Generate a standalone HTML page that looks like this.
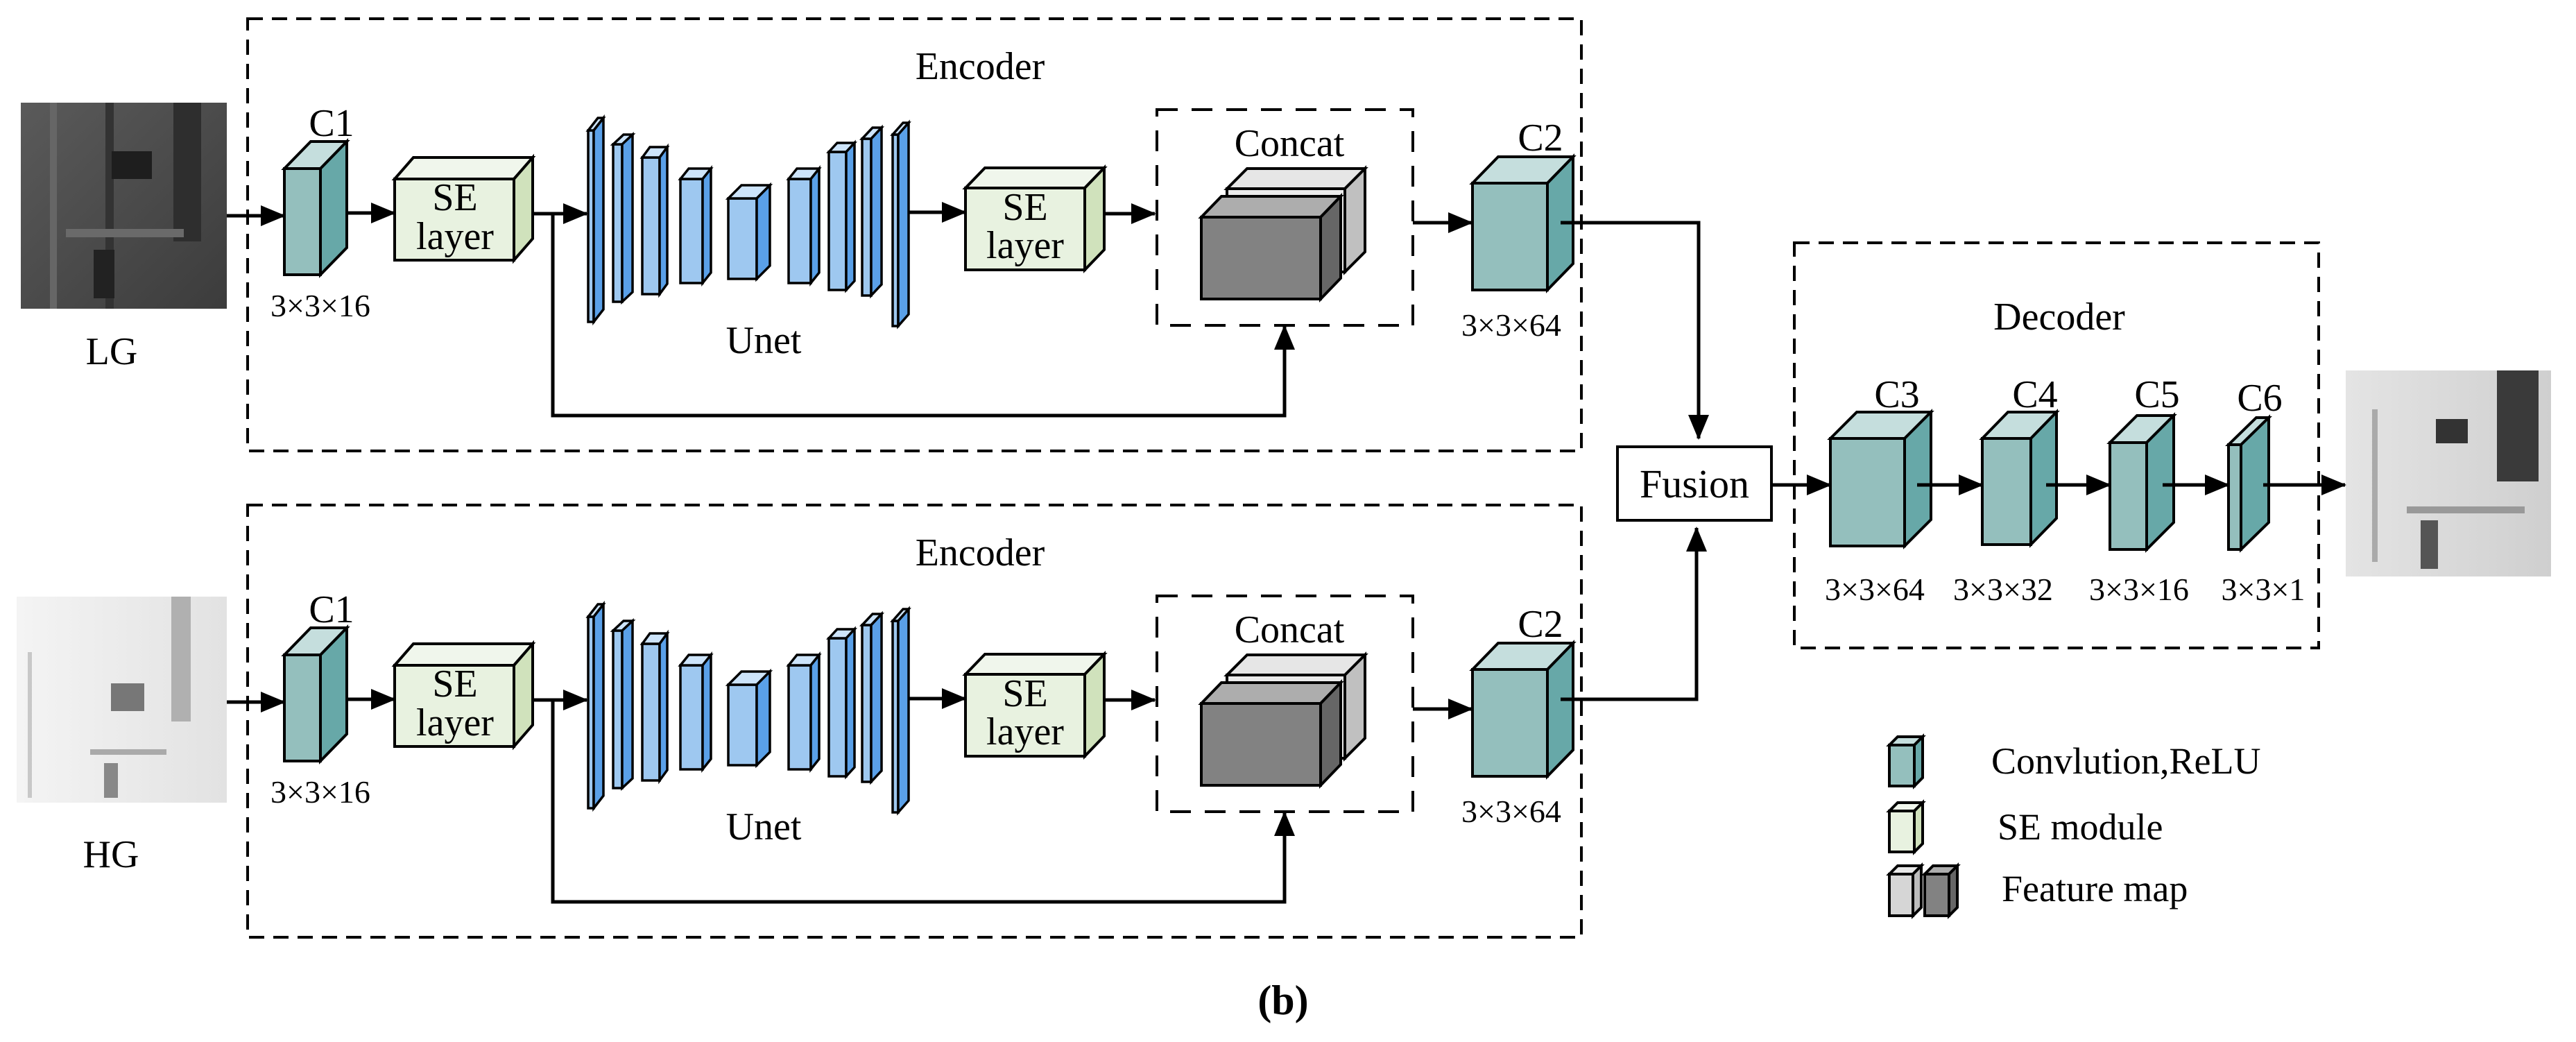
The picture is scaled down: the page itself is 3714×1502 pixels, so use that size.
<!DOCTYPE html>
<html><head><meta charset="utf-8"><style>
html,body{margin:0;padding:0;background:#fff}
svg{display:block}
text{font-family:"Liberation Serif",serif;fill:#000}
</style></head><body>
<svg width="3714" height="1502" viewBox="0 0 3714 1502" xmlns="http://www.w3.org/2000/svg">
<defs>
<marker id="ah" markerUnits="userSpaceOnUse" markerWidth="36" markerHeight="30" refX="34" refY="15" orient="auto"><path d="M0,0 L36,15 L0,30 Z" fill="#000"/></marker>
<linearGradient id="lg" x1="0" y1="0" x2="1" y2="1"><stop offset="0" stop-color="#5a5a5a"/><stop offset="1" stop-color="#3c3c3c"/></linearGradient>
<linearGradient id="hg" x1="0" y1="0" x2="1" y2="0"><stop offset="0" stop-color="#f4f4f4"/><stop offset="1" stop-color="#e2e2e2"/></linearGradient>
<linearGradient id="og" x1="0" y1="0" x2="1" y2="0"><stop offset="0" stop-color="#e4e4e4"/><stop offset="1" stop-color="#cfcfcf"/></linearGradient>
</defs>
<g stroke="#000" stroke-width="4" stroke-linejoin="miter">

<!-- LG image -->
<rect x="30" y="148" width="297" height="297" fill="url(#lg)" stroke="none"/>
<rect x="72" y="148" width="10" height="297" fill="#666" stroke="none"/>
<rect x="152" y="148" width="12" height="297" fill="#333" stroke="none"/>
<rect x="250" y="148" width="40" height="200" fill="#2e2e2e" stroke="none"/>
<rect x="161" y="218" width="58" height="40" fill="#1e1e1e" stroke="none"/>
<rect x="95" y="330" width="170" height="12" fill="#6a6a6a" stroke="none"/>
<rect x="135" y="360" width="30" height="70" fill="#222" stroke="none"/>
<!-- HG image -->
<rect x="24" y="860" width="303" height="297" fill="url(#hg)" stroke="none"/>
<rect x="247" y="860" width="28" height="180" fill="#b0b0b0" stroke="none"/>
<rect x="160" y="985" width="48" height="40" fill="#777" stroke="none"/>
<rect x="130" y="1080" width="110" height="8" fill="#aaa" stroke="none"/>
<rect x="150" y="1100" width="20" height="50" fill="#888" stroke="none"/>
<rect x="40" y="940" width="6" height="210" fill="#c8c8c8" stroke="none"/>
<!-- Output image -->
<rect x="3382" y="534" width="296" height="297" fill="url(#og)" stroke="none"/>
<rect x="3600" y="534" width="60" height="160" fill="#3a3a3a" stroke="none"/>
<rect x="3512" y="604" width="46" height="35" fill="#333" stroke="none"/>
<rect x="3420" y="590" width="8" height="220" fill="#aaa" stroke="none"/>
<rect x="3470" y="730" width="170" height="10" fill="#999" stroke="none"/>
<rect x="3490" y="750" width="25" height="70" fill="#555" stroke="none"/>

<!-- ============ TOP ENCODER ============ -->
<g id="enc">
<rect x="357" y="27" width="1923" height="623" fill="none" stroke-dasharray="22,13"/>
<rect x="1668" y="158" width="369" height="311" fill="none" stroke-dasharray="30,20"/>
<!-- C1 -->
<polygon points="410,243 410,396 462,396 462,243" fill="#94bfbd"/>
<polygon points="410,243 448,204 500,204 462,243" fill="#c5dedd"/>
<polygon points="462,243 500,204 500,357 462,396" fill="#67a8a8"/>
<!-- SE1 -->
<polygon points="569,258 741,258 741,375 569,375" fill="#e8f2e0"/>
<polygon points="569,258 596,227 768,227 741,258" fill="#f0f6ec"/>
<polygon points="741,258 768,227 768,344 741,375" fill="#d0e2bc"/>
<!-- Unet bars -->
<g stroke-width="3.5">
<polygon points="848,188 856,188 856,464 848,464" fill="#9ec8f0"/><polygon points="848,188 862,170 870,170 856,188" fill="#cde4fa"/><polygon points="856,188 870,170 870,446 856,464" fill="#5aa0e8"/>
<polygon points="884,208 897,208 897,435 884,435" fill="#9ec8f0"/><polygon points="884,208 899,194 912,194 897,208" fill="#cde4fa"/><polygon points="897,208 912,194 912,421 897,435" fill="#5aa0e8"/>
<polygon points="926,227 951,227 951,424 926,424" fill="#9ec8f0"/><polygon points="926,227 937,212 962,212 951,227" fill="#cde4fa"/><polygon points="951,227 962,212 962,409 951,424" fill="#5aa0e8"/>
<polygon points="981,258 1013,258 1013,408 981,408" fill="#9ec8f0"/><polygon points="981,258 993,243 1025,243 1013,258" fill="#cde4fa"/><polygon points="1013,258 1025,243 1025,393 1013,408" fill="#5aa0e8"/>
<polygon points="1050,286 1091,286 1091,402 1050,402" fill="#9ec8f0"/><polygon points="1050,286 1069,267 1110,267 1091,286" fill="#cde4fa"/><polygon points="1091,286 1110,267 1110,383 1091,402" fill="#5aa0e8"/>
<polygon points="1137,258 1169,258 1169,408 1137,408" fill="#9ec8f0"/><polygon points="1137,258 1149,243 1181,243 1169,258" fill="#cde4fa"/><polygon points="1169,258 1181,243 1181,393 1169,408" fill="#5aa0e8"/>
<polygon points="1195,219 1220,219 1220,418 1195,418" fill="#9ec8f0"/><polygon points="1195,219 1207,206 1232,206 1220,219" fill="#cde4fa"/><polygon points="1220,219 1232,206 1232,405 1220,418" fill="#5aa0e8"/>
<polygon points="1243,200 1256,200 1256,426 1243,426" fill="#9ec8f0"/><polygon points="1243,200 1258,184 1271,184 1256,200" fill="#cde4fa"/><polygon points="1256,200 1271,184 1271,410 1256,426" fill="#5aa0e8"/>
<polygon points="1287,194 1295,194 1295,470 1287,470" fill="#9ec8f0"/><polygon points="1287,194 1302,177 1310,177 1295,194" fill="#cde4fa"/><polygon points="1295,194 1310,177 1310,453 1295,470" fill="#5aa0e8"/>
</g>
<!-- SE2 -->
<polygon points="1392,271 1564,271 1564,389 1392,389" fill="#e8f2e0"/>
<polygon points="1392,271 1420,242 1592,242 1564,271" fill="#f0f6ec"/>
<polygon points="1564,271 1592,242 1592,360 1564,389" fill="#d0e2bc"/>
<!-- feature maps -->
<polygon points="1769,272 1939,272 1939,392 1769,392" fill="#ebebeb"/>
<polygon points="1769,272 1798,243 1968,243 1939,272" fill="#e6e6e6"/>
<polygon points="1939,272 1968,243 1968,363 1939,392" fill="#c0c0c0"/>
<polygon points="1732,313 1904,313 1904,431 1732,431" fill="#828282"/>
<polygon points="1732,313 1761,283 1933,283 1904,313" fill="#adadad"/>
<polygon points="1904,313 1933,283 1933,401 1904,431" fill="#666"/>
<!-- C2 -->
<polygon points="2123,264 2231,264 2231,418 2123,418" fill="#94bfbd"/>
<polygon points="2123,264 2160,226 2268,226 2231,264" fill="#c5dedd"/>
<polygon points="2231,264 2268,226 2268,380 2231,418" fill="#67a8a8"/>
<!-- arrows -->
<g stroke-width="5" fill="none">
<line x1="327" y1="311" x2="410" y2="311" marker-end="url(#ah)"/>
<line x1="500" y1="307" x2="569" y2="307" marker-end="url(#ah)"/>
<line x1="768" y1="308" x2="846" y2="308" marker-end="url(#ah)"/>
<polyline points="797,308 797,599 1852,599 1852,470" marker-end="url(#ah)"/>
<line x1="1310" y1="306" x2="1392" y2="306" marker-end="url(#ah)"/>
<line x1="1592" y1="308" x2="1665" y2="308" marker-end="url(#ah)"/>
<line x1="2037" y1="321" x2="2122" y2="321" marker-end="url(#ah)"/>
</g>
<g stroke="none">
<text x="1413" y="114" font-size="56" text-anchor="middle">Encoder</text>
<text x="478" y="196" font-size="56" text-anchor="middle">C1</text>
<text x="462" y="456" font-size="46" text-anchor="middle">3×3×16</text>
<text x="656" y="303" font-size="56" text-anchor="middle">SE</text>
<text x="656" y="359" font-size="56" text-anchor="middle">layer</text>
<text x="1101" y="509" font-size="56" text-anchor="middle">Unet</text>
<text x="1478" y="317" font-size="56" text-anchor="middle">SE</text>
<text x="1478" y="372" font-size="56" text-anchor="middle">layer</text>
<text x="1859" y="225" font-size="56" text-anchor="middle">Concat</text>
<text x="2221" y="217" font-size="56" text-anchor="middle">C2</text>
<text x="2179" y="484" font-size="46" text-anchor="middle">3×3×64</text>
</g>
</g>

<!-- ============ BOTTOM ENCODER (copy, shifted 701) ============ -->
<g transform="translate(0,701)">
<rect x="357" y="27" width="1923" height="623" fill="none" stroke-dasharray="22,13"/>
<rect x="1668" y="158" width="369" height="311" fill="none" stroke-dasharray="30,20"/>
<polygon points="410,243 410,396 462,396 462,243" fill="#94bfbd"/>
<polygon points="410,243 448,204 500,204 462,243" fill="#c5dedd"/>
<polygon points="462,243 500,204 500,357 462,396" fill="#67a8a8"/>
<polygon points="569,258 741,258 741,375 569,375" fill="#e8f2e0"/>
<polygon points="569,258 596,227 768,227 741,258" fill="#f0f6ec"/>
<polygon points="741,258 768,227 768,344 741,375" fill="#d0e2bc"/>
<g stroke-width="3.5">
<polygon points="848,188 856,188 856,464 848,464" fill="#9ec8f0"/><polygon points="848,188 862,170 870,170 856,188" fill="#cde4fa"/><polygon points="856,188 870,170 870,446 856,464" fill="#5aa0e8"/>
<polygon points="884,208 897,208 897,435 884,435" fill="#9ec8f0"/><polygon points="884,208 899,194 912,194 897,208" fill="#cde4fa"/><polygon points="897,208 912,194 912,421 897,435" fill="#5aa0e8"/>
<polygon points="926,227 951,227 951,424 926,424" fill="#9ec8f0"/><polygon points="926,227 937,212 962,212 951,227" fill="#cde4fa"/><polygon points="951,227 962,212 962,409 951,424" fill="#5aa0e8"/>
<polygon points="981,258 1013,258 1013,408 981,408" fill="#9ec8f0"/><polygon points="981,258 993,243 1025,243 1013,258" fill="#cde4fa"/><polygon points="1013,258 1025,243 1025,393 1013,408" fill="#5aa0e8"/>
<polygon points="1050,286 1091,286 1091,402 1050,402" fill="#9ec8f0"/><polygon points="1050,286 1069,267 1110,267 1091,286" fill="#cde4fa"/><polygon points="1091,286 1110,267 1110,383 1091,402" fill="#5aa0e8"/>
<polygon points="1137,258 1169,258 1169,408 1137,408" fill="#9ec8f0"/><polygon points="1137,258 1149,243 1181,243 1169,258" fill="#cde4fa"/><polygon points="1169,258 1181,243 1181,393 1169,408" fill="#5aa0e8"/>
<polygon points="1195,219 1220,219 1220,418 1195,418" fill="#9ec8f0"/><polygon points="1195,219 1207,206 1232,206 1220,219" fill="#cde4fa"/><polygon points="1220,219 1232,206 1232,405 1220,418" fill="#5aa0e8"/>
<polygon points="1243,200 1256,200 1256,426 1243,426" fill="#9ec8f0"/><polygon points="1243,200 1258,184 1271,184 1256,200" fill="#cde4fa"/><polygon points="1256,200 1271,184 1271,410 1256,426" fill="#5aa0e8"/>
<polygon points="1287,194 1295,194 1295,470 1287,470" fill="#9ec8f0"/><polygon points="1287,194 1302,177 1310,177 1295,194" fill="#cde4fa"/><polygon points="1295,194 1310,177 1310,453 1295,470" fill="#5aa0e8"/>
</g>
<polygon points="1392,271 1564,271 1564,389 1392,389" fill="#e8f2e0"/>
<polygon points="1392,271 1420,242 1592,242 1564,271" fill="#f0f6ec"/>
<polygon points="1564,271 1592,242 1592,360 1564,389" fill="#d0e2bc"/>
<polygon points="1769,272 1939,272 1939,392 1769,392" fill="#ebebeb"/>
<polygon points="1769,272 1798,243 1968,243 1939,272" fill="#e6e6e6"/>
<polygon points="1939,272 1968,243 1968,363 1939,392" fill="#c0c0c0"/>
<polygon points="1732,313 1904,313 1904,431 1732,431" fill="#828282"/>
<polygon points="1732,313 1761,283 1933,283 1904,313" fill="#adadad"/>
<polygon points="1904,313 1933,283 1933,401 1904,431" fill="#666"/>
<polygon points="2123,264 2231,264 2231,418 2123,418" fill="#94bfbd"/>
<polygon points="2123,264 2160,226 2268,226 2231,264" fill="#c5dedd"/>
<polygon points="2231,264 2268,226 2268,380 2231,418" fill="#67a8a8"/>
<g stroke-width="5" fill="none">
<line x1="327" y1="311" x2="410" y2="311" marker-end="url(#ah)"/>
<line x1="500" y1="307" x2="569" y2="307" marker-end="url(#ah)"/>
<line x1="768" y1="308" x2="846" y2="308" marker-end="url(#ah)"/>
<polyline points="797,308 797,599 1852,599 1852,470" marker-end="url(#ah)"/>
<line x1="1310" y1="306" x2="1392" y2="306" marker-end="url(#ah)"/>
<line x1="1592" y1="308" x2="1665" y2="308" marker-end="url(#ah)"/>
<line x1="2037" y1="321" x2="2122" y2="321" marker-end="url(#ah)"/>
</g>
<g stroke="none">
<text x="1413" y="114" font-size="56" text-anchor="middle">Encoder</text>
<text x="478" y="196" font-size="56" text-anchor="middle">C1</text>
<text x="462" y="456" font-size="46" text-anchor="middle">3×3×16</text>
<text x="656" y="303" font-size="56" text-anchor="middle">SE</text>
<text x="656" y="359" font-size="56" text-anchor="middle">layer</text>
<text x="1101" y="509" font-size="56" text-anchor="middle">Unet</text>
<text x="1478" y="317" font-size="56" text-anchor="middle">SE</text>
<text x="1478" y="372" font-size="56" text-anchor="middle">layer</text>
<text x="1859" y="225" font-size="56" text-anchor="middle">Concat</text>
<text x="2221" y="217" font-size="56" text-anchor="middle">C2</text>
<text x="2179" y="484" font-size="46" text-anchor="middle">3×3×64</text>
</g>
</g>

<!-- ============ FUSION + DECODER ============ -->
<g stroke-width="5" fill="none">
<polyline points="2250,321 2449,321 2449,632" marker-end="url(#ah)"/>
<polyline points="2250,1008 2446,1008 2446,761" marker-end="url(#ah)"/>
<line x1="2554" y1="699" x2="2639" y2="699" marker-end="url(#ah)"/>
</g>
<rect x="2332" y="644" width="222" height="106" fill="#fff"/>
<rect x="2587" y="350" width="756" height="584" fill="none" stroke-dasharray="22,13"/>
<!-- C3 -->
<polygon points="2639,632 2746,632 2746,787 2639,787" fill="#94bfbd"/>
<polygon points="2639,632 2677,594 2784,594 2746,632" fill="#c5dedd"/>
<polygon points="2746,632 2784,594 2784,749 2746,787" fill="#67a8a8"/>
<!-- C4 -->
<polygon points="2858,632 2928,632 2928,785 2858,785" fill="#94bfbd"/>
<polygon points="2858,632 2895,594 2965,594 2928,632" fill="#c5dedd"/>
<polygon points="2928,632 2965,594 2965,747 2928,785" fill="#67a8a8"/>
<!-- C5 -->
<polygon points="3042,638 3095,638 3095,792 3042,792" fill="#94bfbd"/>
<polygon points="3042,638 3081,599 3134,599 3095,638" fill="#c5dedd"/>
<polygon points="3095,638 3134,599 3134,753 3095,792" fill="#67a8a8"/>
<!-- C6 -->
<polygon points="3213,641 3231,641 3231,792 3213,792" fill="#94bfbd"/>
<polygon points="3213,641 3253,602 3271,602 3231,641" fill="#c5dedd"/>
<polygon points="3231,641 3271,602 3271,753 3231,792" fill="#67a8a8"/>
<g stroke-width="5" fill="none">
<line x1="2764" y1="699" x2="2858" y2="699" marker-end="url(#ah)"/>
<line x1="2950" y1="699" x2="3042" y2="699" marker-end="url(#ah)"/>
<line x1="3118" y1="699" x2="3213" y2="699" marker-end="url(#ah)"/>
<line x1="3263" y1="699" x2="3381" y2="699" marker-end="url(#ah)"/>
</g>
<!-- legend -->
<polygon points="2724,1074 2760,1074 2760,1133 2724,1133" fill="#94bfbd"/>
<polygon points="2724,1074 2736,1062 2772,1062 2760,1074" fill="#c5dedd"/>
<polygon points="2760,1074 2772,1062 2772,1121 2760,1133" fill="#67a8a8"/>
<polygon points="2724,1169 2760,1169 2760,1228 2724,1228" fill="#e8f2e0"/>
<polygon points="2724,1169 2736,1157 2772,1157 2760,1169" fill="#f0f6ec"/>
<polygon points="2760,1169 2772,1157 2772,1216 2760,1228" fill="#d0e2bc"/>
<polygon points="2724,1260 2758,1260 2758,1320 2724,1320" fill="#d6d6d6"/>
<polygon points="2724,1260 2736,1248 2770,1248 2758,1260" fill="#e8e8e8"/>
<polygon points="2758,1260 2770,1248 2770,1308 2758,1320" fill="#bdbdbd"/>
<polygon points="2775,1260 2810,1260 2810,1320 2775,1320" fill="#828282"/>
<polygon points="2775,1260 2787,1248 2822,1248 2810,1260" fill="#adadad"/>
<polygon points="2810,1260 2822,1248 2822,1308 2810,1320" fill="#666"/>
</g>

<g>
<text x="161" y="525" font-size="56" text-anchor="middle">LG</text>
<text x="160" y="1250" font-size="56" text-anchor="middle">HG</text>
<text x="2443" y="717" font-size="58" text-anchor="middle">Fusion</text>
<text x="2969" y="475" font-size="56" text-anchor="middle">Decoder</text>
<text x="2735" y="587" font-size="56" text-anchor="middle">C3</text>
<text x="2934" y="587" font-size="56" text-anchor="middle">C4</text>
<text x="3110" y="587" font-size="56" text-anchor="middle">C5</text>
<text x="3258" y="592" font-size="56" text-anchor="middle">C6</text>
<text x="2703" y="865" font-size="46" text-anchor="middle">3×3×64</text>
<text x="2888" y="865" font-size="46" text-anchor="middle">3×3×32</text>
<text x="3084" y="865" font-size="46" text-anchor="middle">3×3×16</text>
<text x="3263" y="865" font-size="46" text-anchor="middle">3×3×1</text>
<text x="2871" y="1115" font-size="54">Convlution,ReLU</text>
<text x="2880" y="1210" font-size="54">SE module</text>
<text x="2886" y="1299" font-size="54">Feature map</text>
<text x="1850" y="1462" font-size="60" font-weight="bold" text-anchor="middle">(b)</text>
</g>
</svg>
</body></html>
